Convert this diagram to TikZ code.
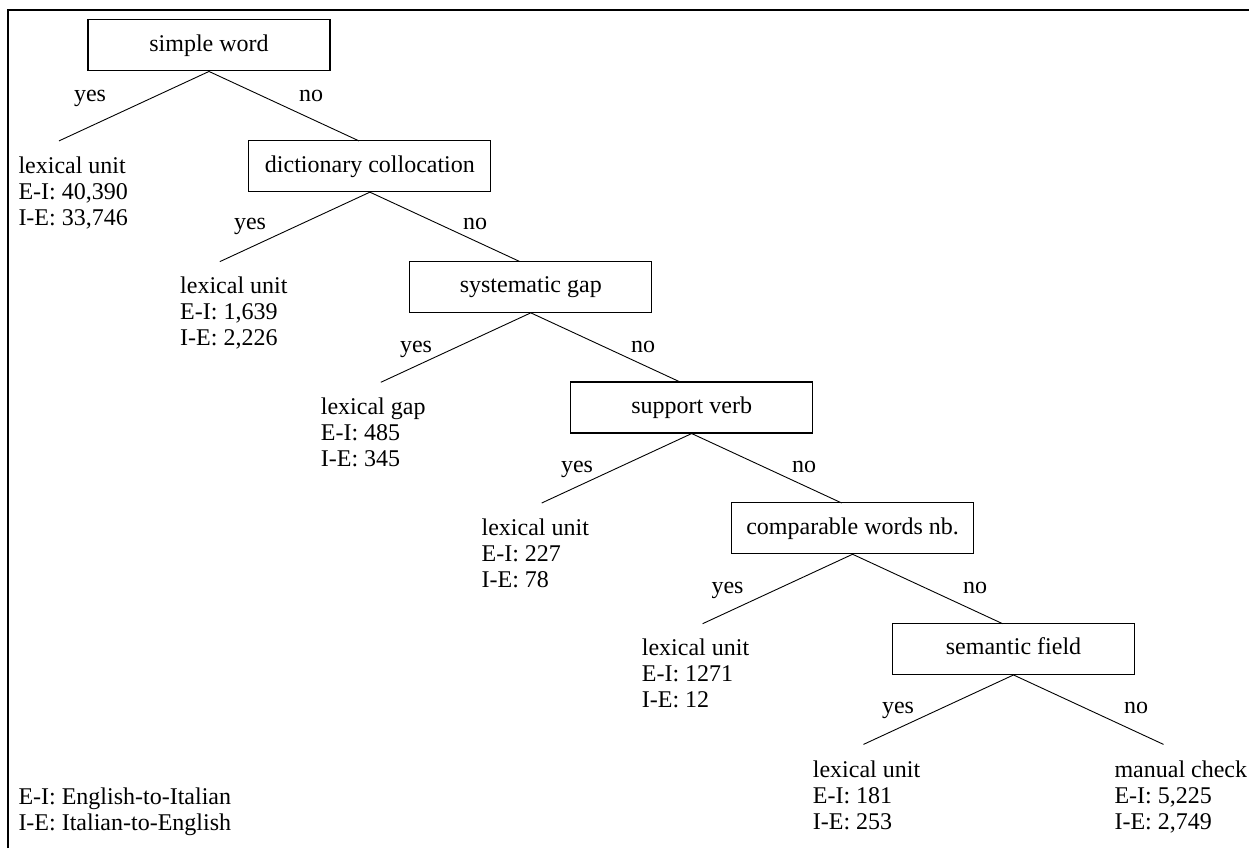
\documentclass[tikz,border=0pt]{standalone}
\usepackage{fontspec}
\setmainfont{Liberation Serif}
\begin{document}
\begin{tikzpicture}[x=1pt,y=-1pt,
  every node/.style={font=\fontsize{24}{26}\selectfont, inner sep=0pt},
  decision/.style={draw, line width=1.1pt, minimum width=242pt, minimum height=51pt, text height=18pt, text depth=6pt},
  edge/.style={line width=0.9pt},
  lab/.style={anchor=base},
  leaf/.style={anchor=base west}]
\useasboundingbox (0,0) rectangle (1249,848);
\draw[line width=2.5pt] (8,848) -- (8,10) -- (1249,10);

% decision boxes
\node[decision] (d0) at (209,45.4) {simple word};
\node[decision] (d1) at (369.9,166.1) {dictionary collocation};
\node[decision] (d2) at (530.8,286.8) {systematic gap};
\node[decision] (d3) at (691.7,407.5) {support verb};
\node[decision] (d4) at (852.6,528.2) {comparable words nb.};
\node[decision] (d5) at (1013.5,648.9) {semantic field};

% branch ends
\coordinate (y0) at (59,140.9);    \coordinate (n0) at (359,140.9);
\coordinate (y1) at (219.9,261.6); \coordinate (n1) at (519.9,261.6);
\coordinate (y2) at (380.8,382.3); \coordinate (n2) at (680.8,382.3);
\coordinate (y3) at (541.7,503);   \coordinate (n3) at (841.7,503);
\coordinate (y4) at (702.6,623.7); \coordinate (n4) at (1002.6,623.7);
\coordinate (y5) at (863.5,744.4); \coordinate (n5) at (1163.5,744.4);

\foreach \k in {0,...,5}{
  \draw[edge] (y\k) -- (d\k.south) -- (n\k);
}

% yes / no labels
\node[lab] (ly0) at (90,102) {yes};    \node[lab] (ln0) at (311,102) {no};
\node[lab] (ly1) at (250,229) {yes};   \node[lab] (ln1) at (475,229) {no};
\node[lab] (ly2) at (416,352.5) {yes}; \node[lab] (ln2) at (643,352.5) {no};
\node[lab] (ly3) at (577,472.5) {yes}; \node[lab] (ln3) at (804,472.5) {no};
\node[lab] (ly4) at (727.5,593) {yes}; \node[lab] (ln4) at (975,593) {no};
\node[lab] (ly5) at (898,713) {yes};   \node[lab] (ln5) at (1136,713) {no};

% leaves
\node[leaf] (l0) at (18.3,173) {\begin{tabular}[t]{@{}l@{}}lexical unit\\E-I: 40,390\\I-E: 33,746\end{tabular}};
\node[leaf] (l1) at (180,293.5) {\begin{tabular}[t]{@{}l@{}}lexical unit\\E-I: 1,639\\I-E: 2,226\end{tabular}};
\node[leaf] (l2) at (320.7,414) {\begin{tabular}[t]{@{}l@{}}lexical gap\\E-I: 485\\I-E: 345\end{tabular}};
\node[leaf] (l3) at (481.4,535) {\begin{tabular}[t]{@{}l@{}}lexical unit\\E-I: 227\\I-E: 78\end{tabular}};
\node[leaf] (l4) at (641.7,655.5) {\begin{tabular}[t]{@{}l@{}}lexical unit\\E-I: 1271\\I-E: 12\end{tabular}};
\node[leaf] (l5) at (812.7,777) {\begin{tabular}[t]{@{}l@{}}lexical unit\\E-I: 181\\I-E: 253\end{tabular}};
\node[leaf] (l6) at (1114.3,777) {\begin{tabular}[t]{@{}l@{}}manual check\\E-I: 5,225\\I-E: 2,749\end{tabular}};

% legend
\node[leaf] (legend) at (18.3,804) {\begin{tabular}[t]{@{}l@{}}E-I: English-to-Italian\\I-E: Italian-to-English\end{tabular}};
\end{tikzpicture}
\end{document}
